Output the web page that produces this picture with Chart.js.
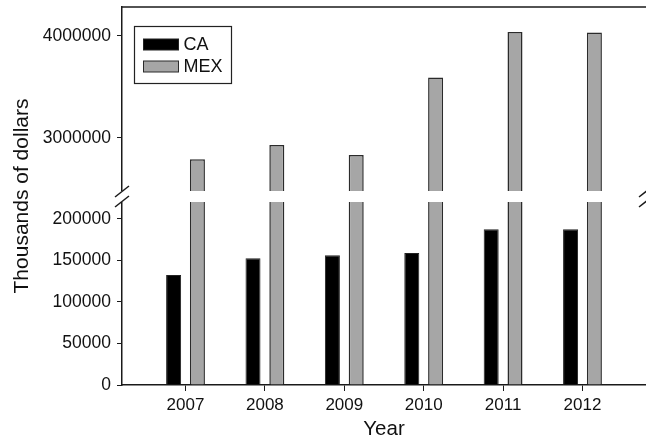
<!DOCTYPE html>
<html lang="en">
  <head>
    <meta charset="UTF-8" />
    <title>CA and MEX, thousands of dollars</title>
    <style>
      body {
        margin: 0;
        background: #fff;
      }
      .wrap {
        width: 646px;
        height: 443px;
        position: relative;
      }
    </style>
  </head>
  <body>
    <div class="wrap">
      <canvas id="chart-1"></canvas>
    </div>

    <script src="https://cdn.jsdelivr.net/npm/chart.js"></script>

    <script>
      const FONT = "'Liberation Sans', Arial, sans-serif";

      // data
      const years = [2007, 2008, 2009, 2010, 2011, 2012];
      const caValues = [132500, 152700, 156300, 159000, 187600, 187600];
      const mexValues = [2788000, 2928000, 2830000, 3592000, 4039000, 4033000];

      // tick labels
      const lowTicks = [0, 50000, 100000, 150000, 200000];
      const highTicks = [3000000, 4000000];

      // broken axis: lower and upper segment ranges
      const lowRange = [0, 227100];
      const highRange = [2423500, 4284000];
      const yearRange = [2006.2, 2012.8];

      const points = (vals) => years.map((yr, i) => ({ x: yr, y: vals[i] }));

      // keep each dataset inside its own y segment
      const segmentClip = {
        id: "segmentClip",
        beforeDatasetDraw(chart, args) {
          const ys = args.meta.yScale;
          const { ctx, chartArea } = chart;
          ctx.save();
          ctx.beginPath();
          ctx.rect(chartArea.left, ys.top, chartArea.right - chartArea.left, ys.bottom - ys.top);
          ctx.clip();
        },
        afterDatasetDraw(chart) {
          chart.ctx.restore();
        },
      };

      // top frame, axis break, y title and boxed legend
      const decorations = {
        id: "decorations",
        afterDraw(chart) {
          const { ctx, chartArea, width } = chart;
          const breakY = chart.scales.yHigh.bottom;
          ctx.save();

          ctx.strokeStyle = "#1a1a1a";
          ctx.lineWidth = 1.5;
          ctx.beginPath();
          ctx.moveTo(chartArea.left, chartArea.top);
          ctx.lineTo(width, chartArea.top);
          ctx.stroke();

          ctx.fillStyle = "#fff";
          ctx.fillRect(chartArea.left - 3, breakY - 5.5, width, 11);

          ctx.lineWidth = 1.5;
          [chartArea.left, chartArea.right].forEach((x) => {
            [-5, 5].forEach((dy) => {
              ctx.beginPath();
              ctx.moveTo(x - 7, breakY + dy + 5.5);
              ctx.lineTo(x + 7, breakY + dy - 5.5);
              ctx.stroke();
            });
          });

          ctx.fillStyle = "#111";
          ctx.font = "21px " + FONT;
          ctx.textAlign = "center";
          ctx.textBaseline = "middle";
          ctx.translate(22, (chartArea.top + chartArea.bottom) / 2);
          ctx.rotate(-Math.PI / 2);
          ctx.fillText("Thousands of dollars", 0, 0);
          ctx.restore();

          // legend
          ctx.save();
          const entries = chart.data.datasets.filter((d) => !d.hideInLegend);
          const bx = chartArea.left + 12.5;
          const by = chartArea.top + 19.5;
          ctx.strokeStyle = "#222";
          ctx.lineWidth = 1.2;
          ctx.strokeRect(bx, by, 97, 57);
          ctx.font = "18px " + FONT;
          ctx.textBaseline = "middle";
          entries.forEach((d, i) => {
            const sy = by + 12.5 + i * 22;
            ctx.fillStyle = d.backgroundColor;
            ctx.fillRect(bx + 9, sy, 35, 11);
            ctx.strokeStyle = d.borderColor;
            ctx.lineWidth = 1;
            ctx.strokeRect(bx + 9, sy, 35, 11);
            ctx.fillStyle = "#111";
            ctx.fillText(d.label, bx + 49, sy + 6);
          });
          ctx.restore();
        },
      };

      const yCommon = {
        position: "left",
        stack: "value",
        stacked: false,
        beginAtZero: false,
        border: { color: "#1a1a1a", width: 1.5 },
        grid: { drawOnChartArea: false, drawTicks: true, tickLength: 5, color: "#1a1a1a" },
        ticks: {
          color: "#111",
          padding: 6,
          font: { family: FONT, size: 17.5 },
          format: { useGrouping: false },
        },
        afterFit(scale) {
          scale.width = 122;
          scale.paddingTop = 0;
          scale.paddingBottom = 0;
        },
      };

      const ctx = document.getElementById("chart-1");
      const chart = new Chart(ctx, {
        type: "bar",
        data: {
          datasets: [
            {
              label: "CA",
              data: points(caValues),
              yAxisID: "yLow",
              stack: "ca",
              backgroundColor: "#000000",
              borderColor: "#222222",
              borderWidth: 1,
            },
            {
              label: "MEX",
              data: points(mexValues),
              yAxisID: "yLow",
              stack: "mex",
              backgroundColor: "#a6a6a6",
              borderColor: "#2b2b2b",
              borderWidth: 1.5,
              hideInLegend: true,
            },
            {
              label: "MEX",
              data: points(mexValues),
              yAxisID: "yHigh",
              stack: "mex",
              backgroundColor: "#a6a6a6",
              borderColor: "#2b2b2b",
              borderWidth: 1.5,
            },
          ],
        },
        options: {
          responsive: true,
          maintainAspectRatio: false,
          animation: false,
          categoryPercentage: 0.6,
          barPercentage: 0.63,
          layout: { padding: { top: 7, left: 0, right: 0, bottom: 0 } },
          plugins: {
            legend: { display: false },
            tooltip: { enabled: false },
          },
          scales: {
            x: {
              type: "linear",
              min: yearRange[0],
              max: yearRange[1],
              offset: false,
              border: { color: "#1a1a1a", width: 1.5 },
              grid: { offset: false, drawOnChartArea: false, drawTicks: true, tickLength: 6, color: "#1a1a1a" },
              ticks: {
                color: "#111",
                padding: 4,
                font: { family: FONT, size: 17 },
                format: { useGrouping: false },
              },
              afterBuildTicks(scale) {
                scale.ticks = years.map((v) => ({ value: v }));
              },
              title: {
                display: true,
                text: "Year",
                color: "#111",
                font: { family: FONT, size: 20.5 },
                padding: { top: 0, bottom: 1 },
              },
              afterFit(scale) {
                scale.height = 58;
                scale.paddingLeft = 0;
                scale.paddingRight = 0;
              },
            },
            yLow: {
              ...yCommon,
              min: lowRange[0],
              max: lowRange[1],
              stackWeight: 188.5,
              afterBuildTicks(scale) {
                scale.ticks = lowTicks.map((v) => ({ value: v }));
              },
            },
            yHigh: {
              ...yCommon,
              min: highRange[0],
              max: highRange[1],
              stackWeight: 189.5,
              afterBuildTicks(scale) {
                scale.ticks = highTicks.map((v) => ({ value: v }));
              },
            },
          },
        },
        plugins: [segmentClip, decorations],
      });
    </script>
  </body>
</html>
